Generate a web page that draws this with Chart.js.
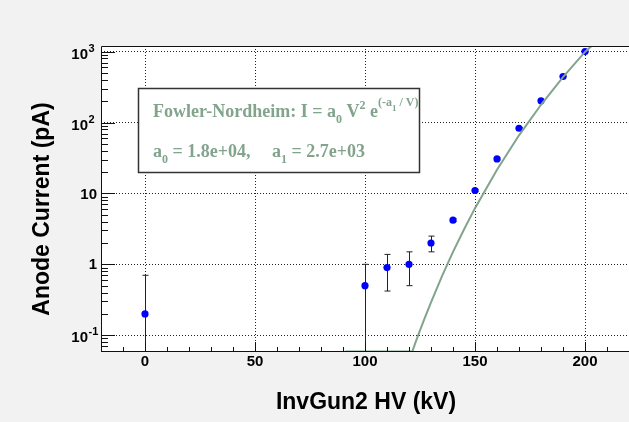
<!DOCTYPE html>
<html>
<head>
<meta charset="utf-8">
<script src="https://cdn.jsdelivr.net/npm/chart.js@4/dist/chart.umd.min.js"></script>
<style>
  html, body { margin: 0; padding: 0; background: #f2f2f2; }
  #wrap { width: 629px; height: 422px; position: relative; }
</style>
</head>
<body>
<div id="wrap"><canvas id="fnChart" width="629" height="422"></canvas></div>
<script>
// measured anode current vs gun HV
const hv = [0, 100, 110, 120, 130, 140, 150, 160, 170, 180, 190, 200];
const current = [0.2, 0.5, 0.9, 1.0, 2.0, 4.2, 11, 30.7, 83, 202, 446, 1000];
const currentErr = [0.5, 0.5, 0.48, 0.5, 0.5, 0.2, 0.4, 1, 2, 4, 8, 15];

// fitted Fowler-Nordheim curve (clipped at the frame bottom below ~121 kV)
const fitHv = [91, 121.5, 123, 125, 127, 130, 135, 140, 145, 150, 160, 170, 180, 190, 200, 203];
const fitI = [0.059, 0.059, 0.08, 0.117, 0.17, 0.29, 0.68, 1.5, 3.1, 6.2, 21.6, 66, 178, 438, 990, 1200];

const xTicks = [0, 50, 100, 150, 200];
const yTicks = [0.1, 1, 10, 100, 1000];
const yTickLabels = [['10', '-1'], ['1', ''], ['10', ''], ['10', '2'], ['10', '3']];

const fitColor = '#82a48d';

const rootStyle = {
    id: 'rootStyle',
    beforeDraw(chart) {
        const { ctx, chartArea: a } = chart;
        ctx.save();
        ctx.fillStyle = '#f2f2f2';
        ctx.fillRect(0, 0, chart.width, chart.height);
        ctx.fillStyle = '#ffffff';
        ctx.fillRect(a.left, a.top, a.right - a.left, a.bottom - a.top);
        ctx.restore();
    },
    beforeDatasetsDraw(chart) {
        // error bars
        const { ctx, chartArea: a, scales: { x, y } } = chart;
        ctx.save();
        ctx.beginPath();
        ctx.rect(a.left, a.top, a.right - a.left, a.bottom - a.top);
        ctx.clip();
        ctx.strokeStyle = '#222';
        ctx.lineWidth = 1;
        hv.forEach((v, i) => {
            const px = Math.round(x.getPixelForValue(v)) + 0.5;
            const lo = current[i] - currentErr[i];
            const yHi = y.getPixelForValue(current[i] + currentErr[i]);
            const yLo = lo > 0 ? y.getPixelForValue(lo) : a.bottom;
            ctx.beginPath();
            ctx.moveTo(px, yLo);
            ctx.lineTo(px, yHi);
            ctx.moveTo(px - 3, yHi);
            ctx.lineTo(px + 3, yHi);
            if (lo > 0) {
                ctx.moveTo(px - 3, yLo);
                ctx.lineTo(px + 3, yLo);
            }
            ctx.stroke();
        });
        ctx.restore();
    },
    afterDraw(chart) {
        const { ctx, chartArea: a, scales: { x, y } } = chart;
        ctx.save();
        // frame
        ctx.strokeStyle = '#111';
        ctx.lineWidth = 1;
        ctx.beginPath();
        ctx.moveTo(a.right, a.top + 0.5);
        ctx.lineTo(a.left + 0.5, a.top + 0.5);
        ctx.lineTo(a.left + 0.5, a.bottom - 0.5);
        ctx.lineTo(a.right, a.bottom - 0.5);
        ctx.stroke();

        // x ticks (inside)
        ctx.beginPath();
        for (let v = -10; v <= 220; v += 10) {
            const px = Math.round(x.getPixelForValue(v)) + 0.5;
            const len = v % 50 === 0 ? 10 : 5;
            ctx.moveTo(px, a.bottom);
            ctx.lineTo(px, a.bottom - len);
        }
        // y ticks (inside, log)
        for (let d = -2; d <= 3; d++) {
            for (let m = 1; m <= 9; m++) {
                const v = m * Math.pow(10, d);
                if (v < y.min || v > y.max) continue;
                const py = Math.round(y.getPixelForValue(v)) + 0.5;
                const len = m === 1 ? 14 : 7;
                ctx.moveTo(a.left, py);
                ctx.lineTo(a.left + len, py);
            }
        }
        ctx.stroke();

        // y tick labels with superscripts
        ctx.fillStyle = '#000';
        ctx.textBaseline = 'middle';
        yTicks.forEach((v, i) => {
            const py = y.getPixelForValue(v);
            const [base, sup] = yTickLabels[i];
            if (sup) {
                ctx.font = 'bold 15px "Liberation Sans", Arial, sans-serif';
                ctx.textAlign = 'right';
                ctx.fillText(base, 88, py + 3);
                ctx.font = 'bold 11px "Liberation Sans", Arial, sans-serif';
                ctx.textAlign = 'left';
                ctx.fillText(sup, 88.5, py - 3);
            } else {
                ctx.font = 'bold 15px "Liberation Sans", Arial, sans-serif';
                ctx.textAlign = 'right';
                ctx.fillText(base, 97, py + 1);
            }
        });

        // axis titles
        ctx.font = 'bold 23px "Liberation Sans", Arial, sans-serif';
        ctx.textAlign = 'center';
        ctx.fillText('InvGun2 HV (kV)', 366, 403);
        ctx.save();
        ctx.translate(43, 209);
        ctx.rotate(-Math.PI / 2);
        ctx.fillText('Anode Current (pA)', 0, 0);
        ctx.restore();

        // fit box
        ctx.fillStyle = '#fff';
        ctx.fillRect(138, 88, 282, 85);
        ctx.strokeStyle = '#333';
        ctx.lineWidth = 1.5;
        ctx.strokeRect(138.5, 88.5, 281, 84);
        ctx.fillStyle = fitColor;
        ctx.textAlign = 'left';
        ctx.textBaseline = 'alphabetic';
        const big = 'bold 18px "Liberation Serif", "Times New Roman", serif';
        const small = 'bold 12px "Liberation Serif", "Times New Roman", serif';
        const tiny = 'bold 9px "Liberation Serif", "Times New Roman", serif';
        const runs = (x0, y0, parts) => {
            let cx = x0;
            parts.forEach(([t, f, dy]) => {
                ctx.font = f;
                ctx.fillText(t, cx, y0 + dy);
                cx += ctx.measureText(t).width;
            });
        };
        runs(153, 117, [
            ['Fowler-Nordheim: I = a', big, 0], ['0', small, 6], [' V', big, 0], ['2', small, -8],
            [' e', big, 0], ['(-a', small, -11], ['1', tiny, -6], [' / V)', small, -11]
        ]);
        runs(153, 157, [
            ['a', big, 0], ['0', small, 6], [' = 1.8e+04,', big, 0]
        ]);
        runs(272, 157, [
            ['a', big, 0], ['1', small, 6], [' = 2.7e+03', big, 0]
        ]);
        ctx.restore();
    }
};

new Chart(document.getElementById('fnChart'), {
    type: 'scatter',
    data: {
        datasets: [
            {
                label: 'fit',
                data: fitHv.map((v, i) => ({ x: v, y: fitI[i] })),
                showLine: true,
                borderColor: fitColor,
                borderWidth: 2,
                pointRadius: 0,
                tension: 0
            },
            {
                label: 'data',
                data: hv.map((v, i) => ({ x: v, y: current[i] })),
                backgroundColor: '#0000ff',
                borderColor: '#0000ff',
                pointRadius: 3.6,
                borderWidth: 0
            }
        ]
    },
    options: {
        responsive: false,
        animation: false,
        layout: { autoPadding: false, padding: { top: 46, left: 0, right: 0, bottom: 0 } },
        plugins: { legend: { display: false }, tooltip: { enabled: false } },
        scales: {
            x: {
                type: 'linear',
                min: -20,
                max: 220,
                afterBuildTicks: (s) => { s.ticks = xTicks.map(v => ({ value: v })); },
                afterFit: (s) => { s.height = 70; s.paddingLeft = 0; s.paddingRight = 0; },
                grid: { color: '#222', lineWidth: 1, drawTicks: false },
                border: { display: false, dash: [1, 2] },
                ticks: {
                    padding: 1,
                    color: '#000',
                    font: { family: '"Liberation Sans", Arial, sans-serif', size: 15, weight: 'bold' },
                    maxRotation: 0
                }
            },
            y: {
                type: 'logarithmic',
                min: 0.058,
                max: 1200,
                afterBuildTicks: (s) => { s.ticks = yTicks.map(v => ({ value: v })); },
                afterFit: (s) => { s.width = 101; s.paddingTop = 0; s.paddingBottom = 0; },
                grid: { color: '#222', lineWidth: 1, drawTicks: false },
                border: { display: false, dash: [1, 2] },
                ticks: { display: false }
            }
        }
    },
    plugins: [rootStyle]
});
</script>
</body>
</html>
